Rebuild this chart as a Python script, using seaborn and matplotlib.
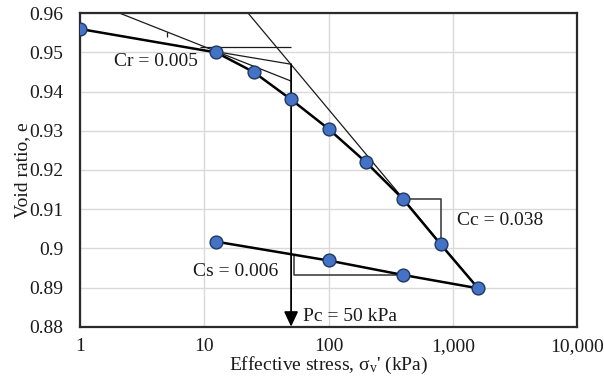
import numpy as np
import pandas as pd
import matplotlib
matplotlib.use("Agg")
import matplotlib.pyplot as plt
import seaborn as sns

# ---- data ----
stress = [1, 12.5, 25, 50, 100, 200, 400, 800, 1600, 400, 100, 12.5]
void_ratio = [0.956, 0.950, 0.945, 0.938, 0.9305, 0.922, 0.9125, 0.901,
              0.8898, 0.8932, 0.8969, 0.9017]
step = list(range(len(stress)))

x_ticks = [1, 10, 100, 1000, 10000]
x_ticklabels = ["1", "10", "100", "1,000", "10,000"]
y_ticks = [0.88, 0.89, 0.90, 0.91, 0.92, 0.93, 0.94, 0.95, 0.96]
y_ticklabels = ["0.88", "0.89", "0.9", "0.91", "0.92", "0.93", "0.94", "0.95", "0.96"]

# construction lines (Casagrande)
tangent_x = [2.1, 50]
tangent_y = [0.96, 0.9427]
horiz_x = [9.3, 50]
horiz_y = [0.9513, 0.9513]
bisect_x = [12.5, 50]
bisect_y = [0.9502, 0.9470]
virgin_x = [22.6, 1600]
virgin_y = [0.96, 0.8898]
cr_tri_x = [5, 5]
cr_tri_y = [0.9553, 0.9539]
cc_tri_x = [400, 800, 800]
cc_tri_y = [0.9125, 0.9125, 0.901]
cs_tri_x = [53, 53, 400]
cs_tri_y = [0.8983, 0.8932, 0.8932]
pc_value = 50
pc_top = 0.9470

labels = ["Cr = 0.005", "Cs = 0.006", "Cc = 0.038", "Pc = 50 kPa"]
label_x = [1.88, 8.1, 1080, 62]
label_y = [0.9476, 0.8940, 0.9070, 0.8826]

df = pd.DataFrame({"stress": stress, "e": void_ratio, "step": step})

sns.set_style("white")
plt.rcParams["font.family"] = ["Liberation Serif", "DejaVu Serif"]
plt.rcParams["mathtext.fontset"] = "custom"
plt.rcParams["mathtext.rm"] = "Liberation Serif"
plt.rcParams["mathtext.it"] = "Liberation Serif:italic"

fig = plt.figure(figsize=(6.04, 3.77), dpi=100)
ax = fig.add_axes([80 / 604, 1 - 326.7 / 377, (577 - 80) / 604, (326.7 - 13.3) / 377])

ax.set_xscale("log")
ax.set_xlim(1, 10000)
ax.set_ylim(0.88, 0.96)

ax.grid(True, which="major", color="#d9d9d9", lw=1.0, zorder=0)
ax.set_axisbelow(True)

thin = dict(color="#1a1a1a", lw=0.9, zorder=2, solid_capstyle="butt")
ax.plot(tangent_x, tangent_y, **thin)
ax.plot(horiz_x, horiz_y, **thin)
ax.plot(bisect_x, bisect_y, **thin)
ax.plot(virgin_x, virgin_y, **thin)
ax.plot(cr_tri_x, cr_tri_y, **thin)
ax.plot(cc_tri_x, cc_tri_y, color="#333333", lw=1.1, zorder=2)
ax.plot(cs_tri_x, cs_tri_y, color="#333333", lw=1.1, zorder=2)

ax.annotate("", xy=(pc_value, 0.88), xytext=(pc_value, pc_top),
            arrowprops=dict(arrowstyle="-|>,head_length=0.75,head_width=0.35",
                            color="#555555", fc="black", ec="black", lw=1.3,
                            mutation_scale=12, shrinkA=0, shrinkB=0),
            zorder=3)

sns.lineplot(data=df, x="stress", y="e", sort=False, estimator=None,
             color="black", lw=1.8, ax=ax, zorder=4)
sns.scatterplot(data=df, x="stress", y="e", s=85, color="#4472C4",
                edgecolor="#1f3864", linewidth=1.0, ax=ax, zorder=5)

for t, xx, yy in zip(labels, label_x, label_y):
    ax.text(xx, yy, t, fontsize=14, ha="left", va="center", zorder=6,
            color="#1a1a1a")

ax.set_xticks(x_ticks)
ax.set_xticklabels(x_ticklabels)
ax.set_yticks(y_ticks)
ax.set_yticklabels(y_ticklabels)
ax.xaxis.set_minor_locator(matplotlib.ticker.NullLocator())
ax.tick_params(axis="both", length=0, labelsize=14, colors="#1a1a1a")
ax.tick_params(axis="y", pad=12)
ax.tick_params(axis="x", pad=8)

for s in ax.spines.values():
    s.set_visible(True)
    s.set_color("#2a2a2a")
    s.set_linewidth(1.6)

ax.set_xlabel("Effective stress, σ$_\\mathregular{v}$' (kPa)", fontsize=14,
              labelpad=0, color="#1a1a1a")
ax.set_ylabel("Void ratio, e", fontsize=14, labelpad=-1, color="#1a1a1a")

fig.savefig("out.png", dpi=100)
